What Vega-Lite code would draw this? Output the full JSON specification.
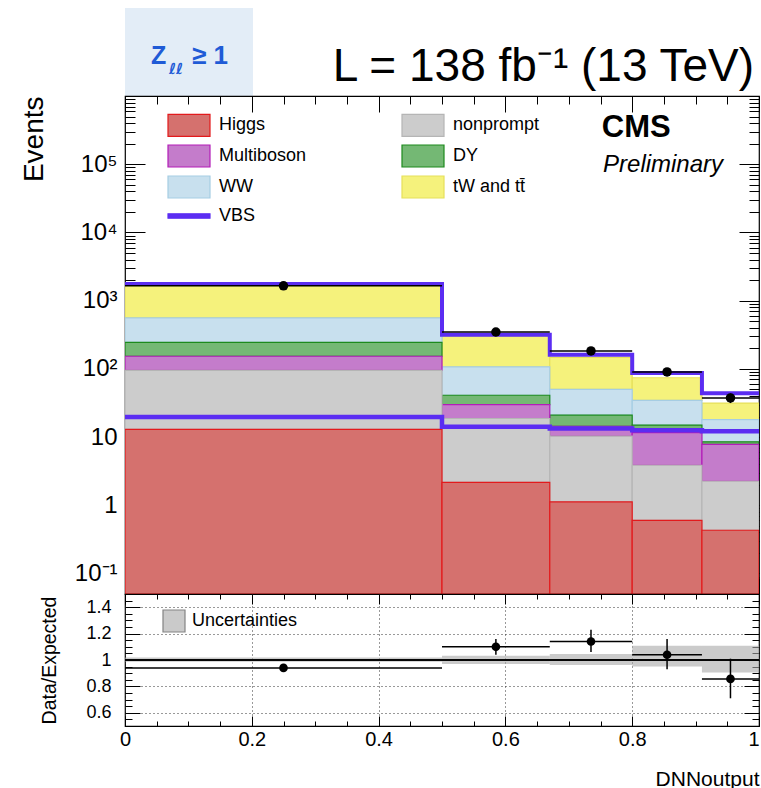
{
  "$schema": "https://vega.github.io/schema/vega-lite/v6.json",
  "autosize": {"type": "pad"},
  "padding": {"left": 19, "top": 8, "right": 0, "bottom": 0},
  "background": "white",
  "bounds": "flush",
  "spacing": 0,
  "config": {
    "font": "Liberation Sans",
    "view": {"stroke": "black", "strokeWidth": 1.2},
    "axis": {"domain": false, "grid": false, "labelFont": "Liberation Sans", "titleFont": "Liberation Sans", "titleFontWeight": "normal", "labelColor": "#000", "titleColor": "#000", "tickColor": "#000", "tickWidth": 1, "labelOverlap": false, "labelFlush": false, "labelBound": false},
    "legend": {"labelFont": "Liberation Sans", "labelColor": "#000"},
    "title": {"font": "Liberation Sans", "fontWeight": "normal", "color": "#000"}
  },
  "datasets": {
    "stack": [
      {"bin": 1, "lo": 0, "hi": 0.5, "process": "tW and tt̄", "base": 557, "top": 1735},
      {"bin": 2, "lo": 0.5, "hi": 0.67, "process": "tW and tt̄", "base": 107, "top": 301},
      {"bin": 3, "lo": 0.67, "hi": 0.8, "process": "tW and tt̄", "base": 50, "top": 147},
      {"bin": 4, "lo": 0.8, "hi": 0.91, "process": "tW and tt̄", "base": 34.6, "top": 74},
      {"bin": 5, "lo": 0.91, "hi": 1.0, "process": "tW and tt̄", "base": 18.0, "top": 31.5},
      {"bin": 1, "lo": 0, "hi": 0.5, "process": "WW", "base": 245, "top": 557},
      {"bin": 2, "lo": 0.5, "hi": 0.67, "process": "WW", "base": 41, "top": 107},
      {"bin": 3, "lo": 0.67, "hi": 0.8, "process": "WW", "base": 20.9, "top": 50},
      {"bin": 4, "lo": 0.8, "hi": 0.91, "process": "WW", "base": 15.0, "top": 34.6},
      {"bin": 5, "lo": 0.91, "hi": 1.0, "process": "WW", "base": 8.5, "top": 18.0},
      {"bin": 1, "lo": 0, "hi": 0.5, "process": "DY", "base": 153, "top": 245},
      {"bin": 2, "lo": 0.5, "hi": 0.67, "process": "DY", "base": 29.9, "top": 41},
      {"bin": 3, "lo": 0.67, "hi": 0.8, "process": "DY", "base": 14.4, "top": 20.9},
      {"bin": 4, "lo": 0.8, "hi": 0.91, "process": "DY", "base": 11.6, "top": 15.0},
      {"bin": 5, "lo": 0.91, "hi": 1.0, "process": "DY", "base": 7.8, "top": 8.5},
      {"bin": 1, "lo": 0, "hi": 0.5, "process": "Multiboson", "base": 95, "top": 153},
      {"bin": 2, "lo": 0.5, "hi": 0.67, "process": "Multiboson", "base": 18.7, "top": 29.9},
      {"bin": 3, "lo": 0.67, "hi": 0.8, "process": "Multiboson", "base": 10.3, "top": 14.4},
      {"bin": 4, "lo": 0.8, "hi": 0.91, "process": "Multiboson", "base": 3.86, "top": 11.6},
      {"bin": 5, "lo": 0.91, "hi": 1.0, "process": "Multiboson", "base": 2.25, "top": 7.8},
      {"bin": 1, "lo": 0, "hi": 0.5, "process": "nonprompt", "base": 13.0, "top": 95},
      {"bin": 2, "lo": 0.5, "hi": 0.67, "process": "nonprompt", "base": 2.17, "top": 18.7},
      {"bin": 3, "lo": 0.67, "hi": 0.8, "process": "nonprompt", "base": 1.12, "top": 10.3},
      {"bin": 4, "lo": 0.8, "hi": 0.91, "process": "nonprompt", "base": 0.6, "top": 3.86},
      {"bin": 5, "lo": 0.91, "hi": 1.0, "process": "nonprompt", "base": 0.43, "top": 2.25},
      {"bin": 1, "lo": 0, "hi": 0.5, "process": "Higgs", "base": 0.001, "top": 13.0},
      {"bin": 2, "lo": 0.5, "hi": 0.67, "process": "Higgs", "base": 0.001, "top": 2.17},
      {"bin": 3, "lo": 0.67, "hi": 0.8, "process": "Higgs", "base": 0.001, "top": 1.12},
      {"bin": 4, "lo": 0.8, "hi": 0.91, "process": "Higgs", "base": 0.001, "top": 0.6},
      {"bin": 5, "lo": 0.91, "hi": 1.0, "process": "Higgs", "base": 0.001, "top": 0.43}
    ],
    "edges": [
      {"x": 0, "total": 1755, "vbs": 19.7},
      {"x": 0.5, "total": 315, "vbs": 14.1},
      {"x": 0.67, "total": 160.5, "vbs": 13.3},
      {"x": 0.8, "total": 86.6, "vbs": 12.6},
      {"x": 0.91, "total": 43.8, "vbs": 12.2},
      {"x": 1.0, "total": 43.8, "vbs": 12.2}
    ],
    "obs": [
      {"bin": 1, "lo": 0, "hi": 0.5, "c": 0.25, "n": 1650, "nlo": 1610, "nhi": 1690, "r": 0.94, "rlo": 0.917, "rhi": 0.963, "ulo": 0.987, "uhi": 1.018},
      {"bin": 2, "lo": 0.5, "hi": 0.67, "c": 0.585, "n": 347, "nlo": 329, "nhi": 366, "r": 1.1, "rlo": 1.04, "rhi": 1.16, "ulo": 0.97, "uhi": 1.032},
      {"bin": 3, "lo": 0.67, "hi": 0.8, "c": 0.735, "n": 183, "nlo": 170, "nhi": 197, "r": 1.14, "rlo": 1.06, "rhi": 1.23, "ulo": 0.962, "uhi": 1.045},
      {"bin": 4, "lo": 0.8, "hi": 0.91, "c": 0.855, "n": 90, "nlo": 80.5, "nhi": 99.5, "r": 1.04, "rlo": 0.93, "rhi": 1.16, "ulo": 0.95, "uhi": 1.108},
      {"bin": 5, "lo": 0.91, "hi": 1.0, "c": 0.955, "n": 37.5, "nlo": 31.5, "nhi": 43.5, "r": 0.857, "rlo": 0.71, "rhi": 1.01, "ulo": 0.905, "uhi": 1.108}
    ]
  },
  "vconcat": [
    {
      "width": 128,
      "height": 88,
      "view": {"fill": "#e3edf7", "stroke": null},
      "data": {"values": [{"t": 1}]},
      "layer": [
        {"mark": {"type": "text", "text": "Z", "font": "Liberation Sans", "fontSize": 25, "fontWeight": "bold", "color": "#1f5bd6", "align": "left", "baseline": "alphabetic", "dx": -38, "dy": 12}, "encoding": {}},
        {"mark": {"type": "text", "text": "ℓℓ", "font": "DejaVu Sans", "fontSize": 15, "fontWeight": "bold", "color": "#1f5bd6", "align": "left", "baseline": "alphabetic", "dx": -20, "dy": 22}, "encoding": {}},
        {"mark": {"type": "text", "text": "≥ 1", "font": "Liberation Sans", "fontSize": 26, "fontWeight": "bold", "color": "#1f5bd6", "align": "left", "baseline": "alphabetic", "dx": 3, "dy": 12}, "encoding": {}}
      ]
    },
    {
      "width": 634,
      "height": 498,
      "title": {"text": "L = 138 fb⁻¹ (13 TeV)", "anchor": "end", "frame": "group", "fontSize": 46, "font": "Liberation Sans", "fontWeight": "normal", "baseline": "alphabetic", "offset": -40, "dx": -5},
      "layer": [
        {
          "data": {"name": "stack"},
          "mark": {"type": "rect", "strokeWidth": 1.2, "clip": true},
          "encoding": {
            "x": {"field": "lo", "type": "quantitative", "scale": {"domain": [0, 1], "nice": false, "zero": false},
              "axis": {"orient": "bottom", "values": [0,0.05,0.1,0.15,0.2,0.25,0.3,0.35,0.4,0.45,0.5,0.55,0.6,0.65,0.7,0.75,0.8,0.85,0.9,0.95,1], "labels": false, "title": null,
                "tickSize": {"condition": {"test": "abs(datum.value*5 - round(datum.value*5)) < 0.001", "value": -16}, "value": -8}}},
            "x2": {"field": "hi"},
            "y": {"field": "top", "type": "quantitative", "scale": {"type": "log", "domain": [0.05, 1000000], "nice": false, "clamp": true},
              "axis": {"orient": "left", "values": [0.06,0.07,0.08,0.09,0.1,0.2,0.3,0.4,0.5,0.6,0.7,0.8,0.9,1,2,3,4,5,6,7,8,9,10,20,30,40,50,60,70,80,90,100,200,300,400,500,600,700,800,900,1000,2000,3000,4000,5000,6000,7000,8000,9000,10000,20000,30000,40000,50000,60000,70000,80000,90000,100000,200000,300000,400000,500000,600000,700000,800000,900000],
                "labelExpr": "datum.value == 0.1 ? '10⁻¹' : datum.value == 1 ? '1' : datum.value == 10 ? '10' : datum.value == 100 ? '10²' : datum.value == 1000 ? '10³' : datum.value == 10000 ? '10⁴' : datum.value == 100000 ? '10⁵' : ''",
                "labelFontSize": 24, "labelPadding": 28,
                "tickSize": {"condition": {"test": "abs(log(datum.value)/LN10 - round(log(datum.value)/LN10)) < 0.001", "value": -20}, "value": -10},
                "title": "Events", "titleFontSize": 28, "titleAnchor": "end", "titleX": -91, "titleBaseline": "middle"}},
            "y2": {"field": "base"},
            "fill": {"field": "process", "type": "nominal",
              "scale": {"domain": ["Higgs", "Multiboson", "WW", "VBS", "nonprompt", "DY", "tW and tt̄"], "range": ["#d5716e", "#c47ccb", "#c8e0ee", "#5b2df2", "#cccccc", "#74b874", "#f5f27c"]},
              "legend": {"orient": "none", "legendX": 52, "legendY": 17, "columns": 2, "columnPadding": 92, "rowPadding": 3, "title": null, "labelFontSize": 18, "labelOffset": 18, "symbolSize": 484, "symbolStrokeWidth": 1.2, "symbolOpacity": 1}},
            "stroke": {"field": "process", "type": "nominal",
              "scale": {"domain": ["Higgs", "Multiboson", "WW", "VBS", "nonprompt", "DY", "tW and tt̄"], "range": ["#e31a1c", "#b31db8", "#a6cde3", "#5b2df2", "#b5b5b5", "#1d8a1d", "#e6e05a"]}}
          }
        },
        {
          "data": {"name": "edges"},
          "mark": {"type": "line", "interpolate": "step-after", "color": "#5b2df2", "strokeWidth": 4.5, "clip": true},
          "encoding": {
            "x": {"field": "x", "type": "quantitative", "scale": {"domain": [0, 1], "nice": false, "zero": false},
              "axis": {"orient": "top", "values": [0,0.05,0.1,0.15,0.2,0.25,0.3,0.35,0.4,0.45,0.5,0.55,0.6,0.65,0.7,0.75,0.8,0.85,0.9,0.95,1], "labels": false, "title": null,
                "tickSize": {"condition": {"test": "abs(datum.value*5 - round(datum.value*5)) < 0.001", "value": -16}, "value": -8}}},
            "y": {"field": "vbs", "type": "quantitative", "scale": {"type": "log", "domain": [0.05, 1000000], "nice": false, "clamp": true},
              "axis": {"orient": "right", "values": [0.06,0.07,0.08,0.09,0.1,0.2,0.3,0.4,0.5,0.6,0.7,0.8,0.9,1,2,3,4,5,6,7,8,9,10,20,30,40,50,60,70,80,90,100,200,300,400,500,600,700,800,900,1000,2000,3000,4000,5000,6000,7000,8000,9000,10000,20000,30000,40000,50000,60000,70000,80000,90000,100000,200000,300000,400000,500000,600000,700000,800000,900000],
                "labels": false, "title": null,
                "tickSize": {"condition": {"test": "abs(log(datum.value)/LN10 - round(log(datum.value)/LN10)) < 0.001", "value": -20}, "value": -10}}}
          }
        },
        {
          "data": {"name": "edges"},
          "mark": {"type": "line", "interpolate": "step-after", "color": "#5b2df2", "strokeWidth": 4, "clip": true},
          "encoding": {
            "x": {"field": "x", "type": "quantitative", "scale": {"domain": [0, 1], "nice": false, "zero": false}, "axis": null},
            "y": {"field": "total", "type": "quantitative", "scale": {"type": "log", "domain": [0.05, 1000000], "nice": false, "clamp": true}, "axis": null}
          }
        },
        {
          "data": {"name": "obs"},
          "mark": {"type": "rule", "color": "black", "strokeWidth": 1.5},
          "encoding": {
            "x": {"field": "lo", "type": "quantitative", "scale": {"domain": [0, 1], "nice": false, "zero": false}, "axis": null},
            "x2": {"field": "hi"},
            "y": {"field": "n", "type": "quantitative", "scale": {"type": "log", "domain": [0.05, 1000000], "nice": false, "clamp": true}, "axis": null}
          }
        },
        {
          "data": {"name": "obs"},
          "mark": {"type": "rule", "color": "black", "strokeWidth": 1.5},
          "encoding": {
            "x": {"field": "c", "type": "quantitative", "scale": {"domain": [0, 1], "nice": false, "zero": false}, "axis": null},
            "y": {"field": "nlo", "type": "quantitative", "scale": {"type": "log", "domain": [0.05, 1000000], "nice": false, "clamp": true}, "axis": null},
            "y2": {"field": "nhi"}
          }
        },
        {
          "data": {"name": "obs"},
          "mark": {"type": "point", "filled": true, "color": "black", "size": 90, "opacity": 1},
          "encoding": {
            "x": {"field": "c", "type": "quantitative", "scale": {"domain": [0, 1], "nice": false, "zero": false}, "axis": null},
            "y": {"field": "n", "type": "quantitative", "scale": {"type": "log", "domain": [0.05, 1000000], "nice": false, "clamp": true}, "axis": null}
          }
        },
        {
          "data": {"name": "stack"},
          "transform": [{"filter": "false"}],
          "mark": {"type": "point", "filled": true, "opacity": 1},
          "encoding": {
            "x": {"field": "lo", "type": "quantitative", "scale": {"domain": [0, 1], "nice": false, "zero": false}, "axis": null},
            "y": {"field": "top", "type": "quantitative", "scale": {"type": "log", "domain": [0.05, 1000000], "nice": false, "clamp": true}, "axis": null},
            "fill": {"field": "process", "type": "nominal",
              "scale": {"domain": ["Higgs", "Multiboson", "WW", "VBS", "nonprompt", "DY", "tW and tt̄"], "range": ["#d5716e", "#c47ccb", "#c8e0ee", "#5b2df2", "#cccccc", "#74b874", "#f5f27c"]}},
            "stroke": {"field": "process", "type": "nominal",
              "scale": {"domain": ["Higgs", "Multiboson", "WW", "VBS", "nonprompt", "DY", "tW and tt̄"], "range": ["#e31a1c", "#b31db8", "#a6cde3", "#5b2df2", "#b5b5b5", "#1d8a1d", "#e6e05a"]}},
            "shape": {"field": "process", "type": "nominal",
              "scale": {"domain": ["Higgs", "Multiboson", "WW", "VBS", "nonprompt", "DY", "tW and tt̄"], "range": ["M-1.909,-1H1.909V1H-1.909Z", "M-1.909,-1H1.909V1H-1.909Z", "M-1.909,-1H1.909V1H-1.909Z", "M-1.909,-0.2H1.909V0.2H-1.909Z", "M-1.909,-1H1.909V1H-1.909Z", "M-1.909,-1H1.909V1H-1.909Z", "M-1.909,-1H1.909V1H-1.909Z"]}}
          }
        },
        {
          "data": {"values": [{"t": 1}]},
          "mark": {"type": "text", "text": "CMS", "font": "Liberation Sans", "fontSize": 31, "fontWeight": "bold", "align": "left", "baseline": "alphabetic", "color": "black"},
          "encoding": {
            "x": {"datum": 0.752, "type": "quantitative", "scale": {"domain": [0, 1], "nice": false, "zero": false}, "axis": null},
            "y": {"datum": 250000, "type": "quantitative", "scale": {"type": "log", "domain": [0.05, 1000000], "nice": false, "clamp": true}, "axis": null}
          }
        },
        {
          "data": {"values": [{"t": 1}]},
          "mark": {"type": "text", "text": "Preliminary", "font": "Liberation Sans", "fontSize": 24, "fontStyle": "italic", "align": "left", "baseline": "alphabetic", "color": "black"},
          "encoding": {
            "x": {"datum": 0.754, "type": "quantitative", "scale": {"domain": [0, 1], "nice": false, "zero": false}, "axis": null},
            "y": {"datum": 76900, "type": "quantitative", "scale": {"type": "log", "domain": [0.05, 1000000], "nice": false, "clamp": true}, "axis": null}
          }
        }
      ],
      "resolve": {"axis": {"x": "independent", "y": "independent"}}
    },
    {
      "width": 634,
      "height": 132,
      "data": {"name": "obs"},
      "layer": [
        {
          "mark": {"type": "rect", "fillOpacity": 0.6},
          "encoding": {
            "x": {"field": "lo", "type": "quantitative", "scale": {"domain": [0, 1], "nice": false, "zero": false},
              "axis": {"orient": "bottom", "values": [0,0.05,0.1,0.15,0.2,0.25,0.3,0.35,0.4,0.45,0.5,0.55,0.6,0.65,0.7,0.75,0.8,0.85,0.9,0.95,1],
                "labelExpr": "abs(datum.value*5 - round(datum.value*5)) < 0.001 ? (datum.value < 0.001 ? '0' : datum.value > 0.999 ? '1' : format(datum.value, '.1f')) : ''",
                "labelFontSize": 20, "labelPadding": 13,
                "labelAlign": {"condition": {"test": "datum.value > 0.999", "value": "right"}, "value": "center"},
                "tickSize": {"condition": {"test": "abs(datum.value*5 - round(datum.value*5)) < 0.001", "value": -10}, "value": -5},
                "grid": true, "gridDash": [1, 3], "gridColor": "#333", "gridOpacity": {"condition": {"test": "abs(datum.value*5 - round(datum.value*5)) < 0.001", "value": 1}, "value": 0},
                "title": "DNNoutput", "titleFontSize": 21, "titleAnchor": "end", "titlePadding": 14}},
            "x2": {"field": "hi"},
            "y": {"field": "ulo", "type": "quantitative", "scale": {"domain": [0.5, 1.5], "nice": false, "zero": false},
              "axis": {"orient": "left", "values": [0.5,0.55,0.6,0.65,0.7,0.75,0.8,0.85,0.9,0.95,1,1.05,1.1,1.15,1.2,1.25,1.3,1.35,1.4,1.45,1.5],
                "labelExpr": "abs(datum.value*5 - round(datum.value*5)) < 0.001 ? (abs(datum.value - 1) < 0.001 ? '1' : format(datum.value, '.1f')) : ''",
                "labelFontSize": 18, "labelPadding": 29,
                "tickSize": {"condition": {"test": "abs(datum.value*5 - round(datum.value*5)) < 0.001", "value": -15}, "value": -7},
                "grid": true, "gridDash": [1, 3], "gridColor": "#333", "gridOpacity": {"condition": {"test": "abs(datum.value*5 - round(datum.value*5)) < 0.001", "value": 1}, "value": 0},
                "title": "Data/Expected", "titleFontSize": 19.5, "titleX": -76, "titleBaseline": "middle"}},
            "y2": {"field": "uhi"},
            "fill": {"datum": "Uncertainties", "type": "nominal", "scale": {"range": ["#a8a8a8"]},
              "legend": {"orient": "none", "legendX": 37, "legendY": 15, "title": null, "labelFontSize": 18, "labelOffset": 6, "symbolType": "square", "symbolSize": 484, "symbolStrokeColor": "#333", "symbolStrokeWidth": 1.2, "symbolOpacity": 0.6}}
          }
        },
        {
          "mark": {"type": "rule", "color": "black", "strokeWidth": 1},
          "encoding": {
            "y": {"datum": 1, "type": "quantitative", "scale": {"domain": [0.5, 1.5], "nice": false, "zero": false}, "axis": null}
          }
        },
        {
          "mark": {"type": "rule", "color": "black", "strokeWidth": 1.5},
          "encoding": {
            "x": {"field": "lo", "type": "quantitative", "scale": {"domain": [0, 1], "nice": false, "zero": false},
              "axis": {"orient": "top", "values": [0,0.05,0.1,0.15,0.2,0.25,0.3,0.35,0.4,0.45,0.5,0.55,0.6,0.65,0.7,0.75,0.8,0.85,0.9,0.95,1], "labels": false, "title": null,
                "tickSize": {"condition": {"test": "abs(datum.value*5 - round(datum.value*5)) < 0.001", "value": -10}, "value": -5}}},
            "x2": {"field": "hi"},
            "y": {"field": "r", "type": "quantitative", "scale": {"domain": [0.5, 1.5], "nice": false, "zero": false},
              "axis": {"orient": "right", "values": [0.5,0.55,0.6,0.65,0.7,0.75,0.8,0.85,0.9,0.95,1,1.05,1.1,1.15,1.2,1.25,1.3,1.35,1.4,1.45,1.5], "labels": false, "title": null,
                "tickSize": {"condition": {"test": "abs(datum.value*5 - round(datum.value*5)) < 0.001", "value": -15}, "value": -7}}}
          }
        },
        {
          "mark": {"type": "rule", "color": "black", "strokeWidth": 1.5},
          "encoding": {
            "x": {"field": "c", "type": "quantitative", "scale": {"domain": [0, 1], "nice": false, "zero": false}, "axis": null},
            "y": {"field": "rlo", "type": "quantitative", "scale": {"domain": [0.5, 1.5], "nice": false, "zero": false}, "axis": null},
            "y2": {"field": "rhi"}
          }
        },
        {
          "mark": {"type": "point", "filled": true, "color": "black", "size": 75, "opacity": 1},
          "encoding": {
            "x": {"field": "c", "type": "quantitative", "scale": {"domain": [0, 1], "nice": false, "zero": false}, "axis": null},
            "y": {"field": "r", "type": "quantitative", "scale": {"domain": [0.5, 1.5], "nice": false, "zero": false}, "axis": null}
          }
        }
      ],
      "resolve": {"axis": {"x": "independent", "y": "independent"}}
    }
  ],
  "resolve": {"scale": {"x": "independent", "y": "independent", "fill": "independent", "stroke": "independent", "shape": "independent"}}
}
